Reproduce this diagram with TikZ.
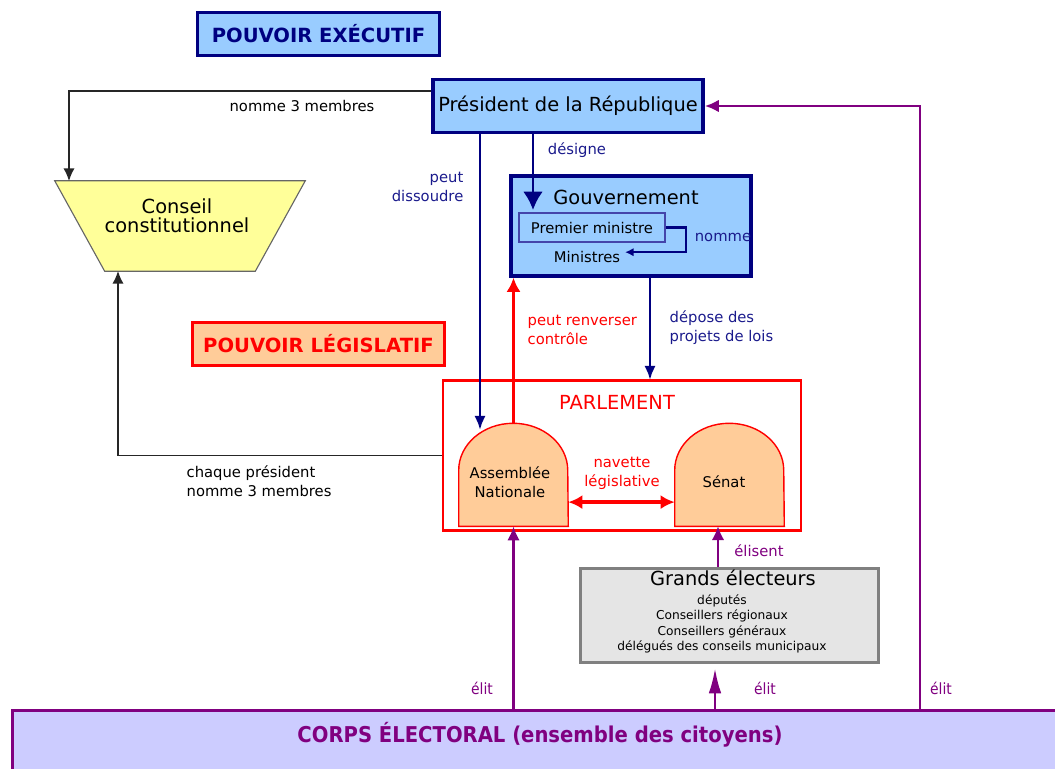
\documentclass[tikz,border=0pt]{standalone}
\usepackage{fontspec}
\setmainfont{DejaVu Sans}
\newfontfamily\condfont{DejaVu Sans Condensed}
\usetikzlibrary{arrows.meta,calc}

\definecolor{navy}{HTML}{000080}
\definecolor{navytext}{HTML}{1A1A8C}
\definecolor{skyfill}{HTML}{99CCFF}
\definecolor{pmline}{HTML}{4444AA}
\definecolor{ccfill}{HTML}{FFFF99}
\definecolor{peach}{HTML}{FFCC99}
\definecolor{gefill}{HTML}{E5E5E5}
\definecolor{geline}{HTML}{808080}
\definecolor{violet}{HTML}{800080}
\definecolor{corpsfill}{HTML}{CCCCFF}

\newcommand{\titlefont}{\fontsize{13.9}{16}\selectfont\bfseries}
\newcommand{\bigfont}{\fontsize{13.8}{13.5}\selectfont}
\newcommand{\midfont}{\fontsize{10.5}{12}\selectfont}
\newcommand{\lblfont}{\fontsize{10.5}{13.5}\selectfont}
\newcommand{\listfont}{\fontsize{8.7}{11}\selectfont}
\newcommand{\corpsfont}{\condfont\bfseries\fontsize{15.5}{17}\selectfont}

\tikzset{
  box/.style={draw, rectangle, inner sep=0pt, align=center},
  execbox/.style={box, draw=navy, fill=skyfill, line width=2.4pt},
  pmbox/.style={box, draw=pmline, fill=skyfill, line width=0.8pt},
  legbox/.style={box, draw=red, fill=peach, line width=2pt},
  parlbox/.style={box, draw=red, line width=2pt},
  gebox/.style={box, draw=geline, fill=gefill, line width=2.4pt},
  corpsbox/.style={box, draw=violet, fill=corpsfill, line width=2pt},
  ccshape/.style={draw=black!60, fill=ccfill, line width=0.8pt},
  dome/.style={draw=red, fill=peach, line width=1pt},
  lbl/.style={font=\lblfont, align=left, inner sep=1pt},
  blkarrow/.style={draw=black!85, line width=1pt, -{Latex[length=9pt,width=8pt]}},
  navyarrow/.style={draw=navy, line width=2pt, -{Latex[length=10pt,width=8pt]}},
  navybig/.style={draw=navy, line width=2pt, -{Latex[length=13pt,width=14pt]}},
  pmarrow/.style={draw=navy, line width=1.5pt, -{Latex[length=6pt,width=6pt]}},
  redarrow/.style={draw=red, line width=2.6pt, -{Latex[length=10pt,width=10pt]}},
  purplearrow/.style={draw=violet, line width=2pt, -{Latex[length=10pt,width=9pt]}},
}

\begin{document}
\begin{tikzpicture}[x=0.025cm, y=-0.025cm]
\useasboundingbox (0,0) rectangle (1055,769);

%Titles
\node[execbox, minimum width=6.05cm, minimum height=1.08cm, font=\titlefont, text=navy] (exec) at (318.5,34) {POUVOIR EXÉCUTIF};
\node[legbox, minimum width=6.3cm, minimum height=1.08cm, font=\titlefont, text=red] (leg) at (318.5,344) {POUVOIR LÉGISLATIF};

%Executive
\node[execbox, minimum width=6.75cm, minimum height=1.33cm, font=\bigfont] (pres) at (568,106) {Président de la République};
\node[execbox, minimum width=6.0cm, minimum height=2.5cm] (gouv) at (631,226) {};
\node[font=\bigfont] (gouv-lbl) at (626,197) {Gouvernement};
\node[pmbox, minimum width=3.65cm, minimum height=0.725cm, font=\midfont] (pm) at (592,227.5) {Premier ministre};
\node[font=\midfont] (min) at (587,257) {Ministres};

%Conseil constitutionnel
\node[minimum width=6.25cm, minimum height=2.25cm, inner sep=0pt] (cc) at (180,226) {};
\draw[ccshape] (cc.north west) -- (cc.north east) -- ([xshift=-1.25cm]cc.south east)
  -- ([xshift=1.25cm]cc.south west) -- cycle;
\node[font=\bigfont, align=center] (cc-lbl) at (177,216) {Conseil\\constitutionnel};

%Parlement
\node[parlbox, minimum width=8.95cm, minimum height=3.75cm] (parl) at (622,455.5) {};
\node[font=\bigfont, text=red] (parl-lbl) at (617,402) {PARLEMENT};
\node[inner sep=0pt, minimum width=2.725cm, minimum height=2.575cm] (an) at (513.5,474.5) {};
\draw[dome] (an.south west) -- ++(0,-56) arc[start angle=180, end angle=0, x radius=1.3625cm, y radius=1.175cm]
  -- (an.south east) -- cycle;
\node[font=\lblfont, align=center] (an-lbl) at (510,482) {Assemblée\\Nationale};
\node[inner sep=0pt, minimum width=2.725cm, minimum height=2.575cm] (sen) at (729.5,474.5) {};
\draw[dome] (sen.south west) -- ++(0,-56) arc[start angle=180, end angle=0, x radius=1.3625cm, y radius=1.175cm]
  -- (sen.south east) -- cycle;
\node[font=\lblfont] (sen-lbl) at (724,482) {Sénat};

%Grands electeurs
\node[gebox, minimum width=7.45cm, minimum height=2.35cm] (ge) at (729.5,615.5) {};
\node[font=\bigfont] (ge-lbl) at (733,578) {Grands électeurs};
\node[font=\listfont, align=center] (ge-list) at (722,624) {députés\\Conseillers régionaux\\Conseillers généraux\\délégués des conseils municipaux};

%Corps electoral
\node[corpsbox, minimum width=26.6cm, minimum height=1.7cm, anchor=north west] (corps) at (11,709) {};
\node[font=\corpsfont, text=violet] (corps-lbl) at (540,735) {CORPS ÉLECTORAL (ensemble des citoyens)};

%Connection points
\coordinate (cc-in) at (69,181);
\coordinate (cc-out) at (118,271);
\coordinate (an-in) at (480,430);
\coordinate (gouv-in) at (533,210);
\coordinate (parl-in) at (650,380);
\coordinate (sen-in) at (718,526);
\coordinate (ge-in) at (715,668);
\coordinate (pres-feed) at (920,709);

%Arrows
\draw[blkarrow] ([yshift=0.375cm]pres.west) -| (cc-in);
\draw[navyarrow] (pres.south -| an-in) -- (an-in);
\draw[navybig] (pres.south -| gouv-in) -- (gouv-in);
\draw[pmarrow] (pm.east) -- ++(20,0) |- ([yshift=0.12cm]min.east);
\draw[redarrow] (an.north) -- (an.north |- gouv.south);
\draw[navyarrow] (parl-in |- gouv.south) -- (parl-in);
\draw[redarrow, {Latex[length=10pt,width=10pt]}-{Latex[length=10pt,width=10pt]}]
  ([yshift=-0.69cm]an.east) -- ([yshift=-0.69cm]sen.west);
\draw[blkarrow] (parl.west) -| (cc-out);
\draw[purplearrow] (ge.north -| sen-in) -- (sen-in);
\draw[purplearrow] (an.south |- corps.north) -- (an.south);
\draw[purplearrow, -{Latex[length=18pt,width=9pt]}] (ge-in |- corps.north) -- (ge-in);
\draw[purplearrow] (pres-feed) |- (pres.east);

%Labels
\node[lbl] (nomme3-lbl) at (302,106) {nomme 3 membres};
\node[lbl, text=navytext, align=right, anchor=east] (dissoudre-lbl) at (465,187) {peut\\dissoudre};
\node[lbl, text=navytext] (designe-lbl) at (577,150) {désigne};
\node[lbl, text=navytext] (nomme-lbl) at (723,237) {nomme};
\node[lbl, text=red, anchor=west] (renverser-lbl) at (526,330) {peut renverser\\contrôle};
\node[lbl, text=navytext, anchor=west] (depose-lbl) at (668,328) {dépose des\\projets de lois};
\node[lbl, text=red, align=center] (navette-lbl) at (622,473) {navette\\législative};
\node[lbl, anchor=west] (chaque-lbl) at (185,481) {chaque président\\nomme 3 membres};
\node[lbl, text=violet] (elisent-lbl) at (759,551) {élisent};
\node[lbl, text=violet, font=\condfont\fontsize{11}{13}\selectfont] (elit1-lbl) at (482,688) {élit};
\node[lbl, text=violet, font=\condfont\fontsize{11}{13}\selectfont] (elit2-lbl) at (765,688) {élit};
\node[lbl, text=violet, font=\condfont\fontsize{11}{13}\selectfont] (elit3-lbl) at (941,688) {élit};

\end{tikzpicture}
\end{document}
